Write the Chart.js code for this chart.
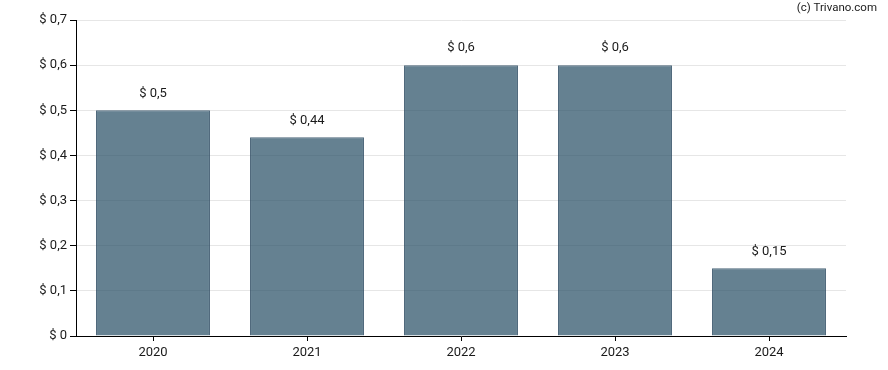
<!DOCTYPE html>
<html>
<head>
<meta charset="utf-8">
<script src="https://cdn.jsdelivr.net/npm/chart.js@4.4.1/dist/chart.umd.min.js"></script>
<style>
  html, body { margin: 0; padding: 0; background: #fff; }
  #wrap { position: relative; width: 888px; height: 370px; }
</style>
</head>
<body>
<div id="wrap"><canvas id="chart" width="888" height="370"></canvas></div>
<script>
const years = ['2020', '2021', '2022', '2023', '2024'];
const dividends = [0.5, 0.44, 0.6, 0.6, 0.15];
const yTicks = [0, 0.1, 0.2, 0.3, 0.4, 0.5, 0.6, 0.7];

const fmt = v => '$ ' + String(Math.round(v * 100) / 100).replace('.', ',');

// labels above the bars
const barLabels = {
  id: 'barLabels',
  afterDatasetsDraw(chart) {
    const ctx = chart.ctx;
    const meta = chart.getDatasetMeta(0);
    ctx.save();
    ctx.font = '13px Roboto';
    ctx.fillStyle = '#1a1a1a';
    ctx.textAlign = 'center';
    ctx.textBaseline = 'middle';
    meta.data.forEach((bar, i) => {
      ctx.fillText(fmt(dividends[i]), bar.x, bar.y - 17);
    });
    // watermark
    ctx.font = '11.5px Roboto';
    ctx.textAlign = 'right';
    ctx.fillText('(c) Trivano.com', 877, 8);
    ctx.restore();
  }
};

const ctx = document.getElementById('chart').getContext('2d');
new Chart(ctx, {
  type: 'bar',
  data: {
    labels: years,
    datasets: [{
      data: dividends,
      backgroundColor: 'rgba(36,76,99,0.7)',
      borderColor: 'rgba(45,75,98,0.85)',
      borderWidth: 1,
      borderSkipped: 'bottom',
      categoryPercentage: 1,
      barPercentage: 0.74
    }]
  },
  options: {
    responsive: false,
    animation: false,
    layout: { padding: { top: 20, right: 42, bottom: 0, left: 0 } },
    plugins: {
      legend: { display: false },
      tooltip: { enabled: false }
    },
    scales: {
      x: {
        grid: { offset: false, drawOnChartArea: false, color: '#000', tickColor: '#000', tickLength: 5 },
        border: { color: '#000', width: 1 },
        ticks: { color: '#1a1a1a', font: { family: 'Roboto', size: 13 }, padding: 4 },
        afterFit(scale) { scale.height = 34; }
      },
      y: {
        min: 0,
        max: 0.7,
        afterBuildTicks(scale) { scale.ticks = yTicks.map(v => ({ value: v })); },
        grid: { color: '#e6e6e6', tickColor: '#000', tickLength: 6 },
        border: { color: '#000', width: 1 },
        ticks: {
          color: '#1a1a1a',
          font: { family: 'Roboto', size: 13 },
          padding: 3,
          callback: v => fmt(v)
        },
        afterFit(scale) { scale.width = 76; }
      }
    }
  },
  plugins: [barLabels]
});
</script>
</body>
</html>
